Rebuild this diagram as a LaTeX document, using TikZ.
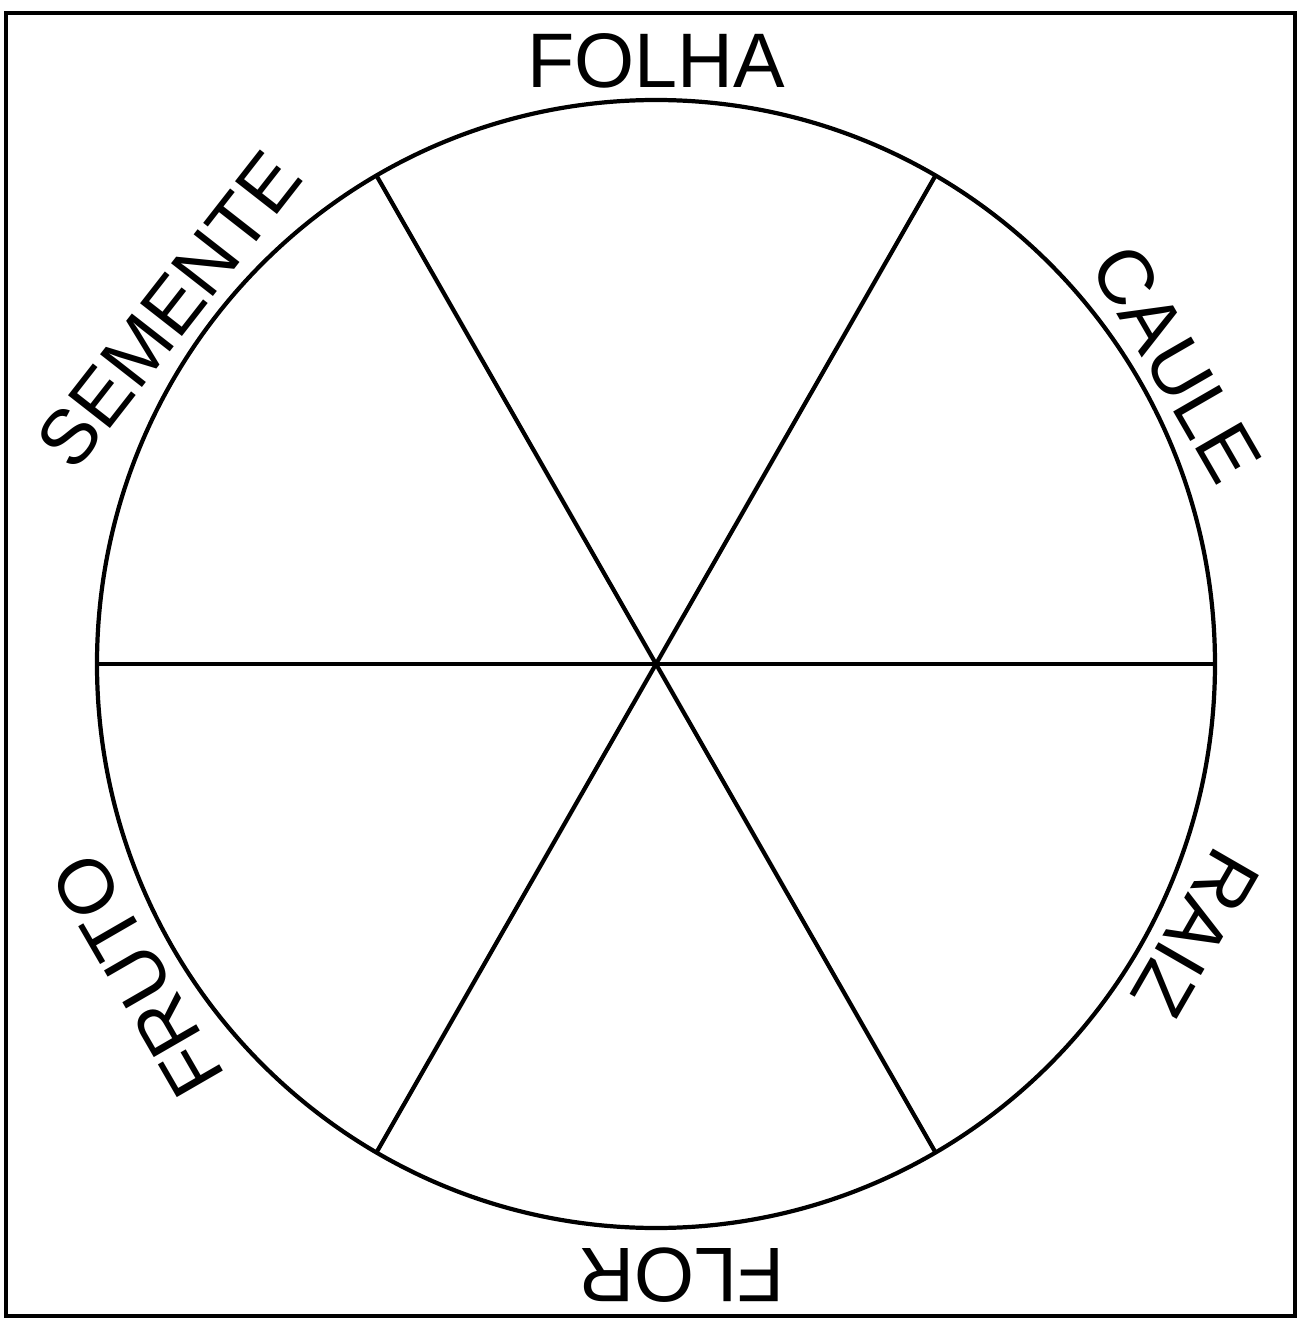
\documentclass[tikz,border=0pt]{standalone}
\usepackage{fontspec}
\setmainfont{Liberation Sans}
\usetikzlibrary{calc}

\tikzset{
  rotulo/.style={font=\fontsize{22}{24}\selectfont, inner sep=0pt},
  raio/.style={line width=1.2pt},
}

\begin{document}
\begin{tikzpicture}
    \useasboundingbox (-6.56,-6.57) rectangle (6.47,6.64);
    \draw[line width=1.4pt] (-6.50,-6.52) rectangle (6.39,6.51);
    \draw[raio] (0,0) ellipse (5.59 and 5.64);
    \coordinate (c) at (0,0);
    \foreach \a in {0,60,...,300}
        \coordinate (p\a) at (\a:5.59 and 5.64);
    \draw[raio] (p0) -- (c) -- (p180);
    \draw[raio] (p60) -- (c) -- (p240);
    \draw[raio] (p120) -- (c) -- (p300);
    % partes da planta
    \node[rotulo] (folha) at (90:6.03) {FOLHA};
    \node[rotulo, rotate=-60] (caule) at (30:6.01) {CAULE};
    \node[rotulo, rotate=-120] (raiz) at (333.5:6.03) {RAIZ};
    \node[rotulo, rotate=180] (flor) at (272.4:6.12) {FLOR};
    \node[rotulo, rotate=120] (fruto) at (211:6.05) {FRUTO};
    \node[rotulo, rotate=52] (semente) at (144:6.02) {SEMENTE};
\end{tikzpicture}
\end{document}
